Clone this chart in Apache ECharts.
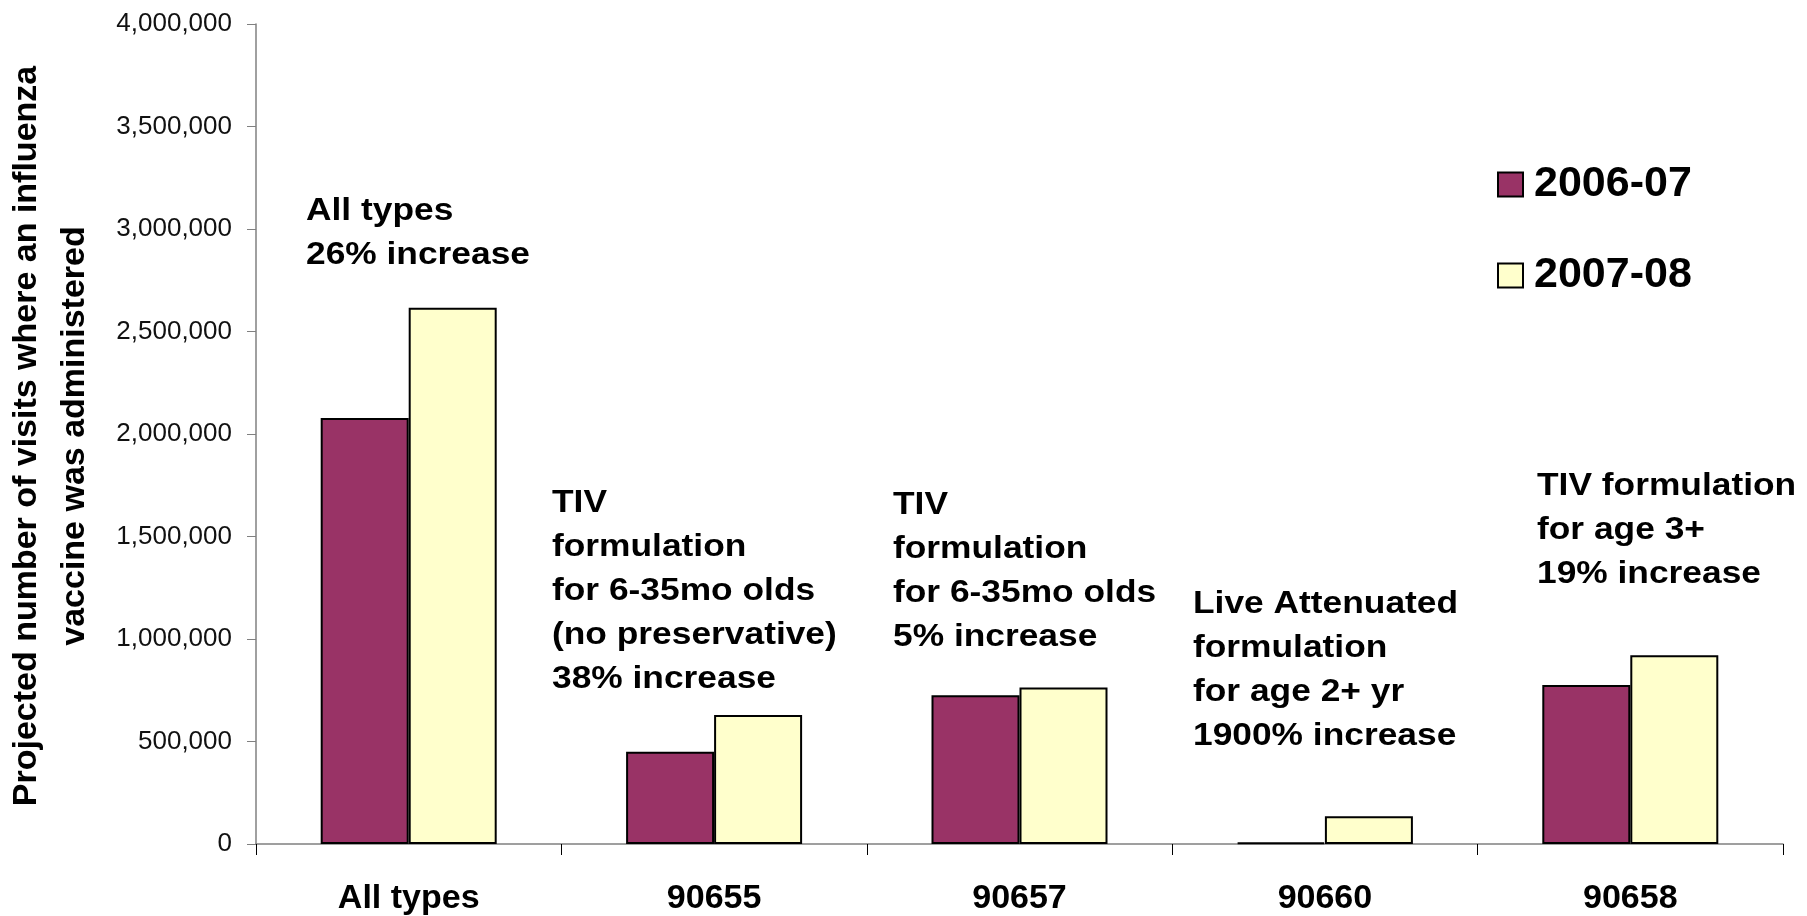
<!DOCTYPE html>
<html>
<head>
<meta charset="utf-8">
<script src="https://cdn.jsdelivr.net/npm/echarts@6/dist/echarts.min.js"></script>
<style>
html,body{margin:0;padding:0;background:#fff;}
#chart{width:1807px;height:916px;}
</style>
</head>
<body>
<div id="chart"></div>
<script>
// ---- data ----
const categories = ['All types', '90655', '90657', '90660', '90658'];
const seriesNames = ['2006-07', '2007-08'];
const values2006 = [2078000, 450000, 726000, 6800, 776000];
const values2007 = [2616000, 629000, 764000, 135500, 921000];
const yTicks = { min: 0, max: 4000000, interval: 500000 };
const yAxisTitle = ['Projected number of visits where an influenza', 'vaccine was administered'];
const annotations = [
  ['All types', '26% increase'],
  ['TIV', 'formulation', 'for 6-35mo olds', '(no preservative)', '38% increase'],
  ['TIV', 'formulation', 'for 6-35mo olds', '5% increase'],
  ['Live Attenuated', 'formulation', 'for age 2+ yr', '1900% increase'],
  ['TIV formulation', 'for age 3+', '19% increase']
];

// ---- layout / style ----
const FONT = '"Liberation Sans", Arial, sans-serif';
const annPos = [[306, 189], [552, 481], [893, 483], [1193, 582], [1537, 464]];

const chart = echarts.init(document.getElementById('chart'));

const graphics = annotations.map((lines, i) => ({
  type: 'text',
  x: annPos[i][0],
  y: annPos[i][1],
  scaleX: 1.14,
  style: {
    text: lines.join('\n'),
    x: 0, y: 0,
    fontFamily: FONT,
    fontSize: 31,
    fontWeight: 'bold',
    lineHeight: 44,
    fill: '#000',
    align: 'left',
    verticalAlign: 'top'
  }
}));
graphics.push({
  type: 'text',
  x: 51,
  y: 436,
  rotation: Math.PI / 2,
  scaleX: 1.03,
  style: {
    text: yAxisTitle.join('\n'),
    x: 0, y: 0,
    fontFamily: FONT,
    fontSize: 33,
    fontWeight: 'bold',
    lineHeight: 48,
    fill: '#000',
    align: 'center',
    verticalAlign: 'middle'
  }
});

const axisColor = '#808080';

chart.setOption({
  animation: false,
  backgroundColor: '#fff',
  textStyle: { fontFamily: FONT },
  grid: { left: 256, right: 24, top: 24, bottom: 72, containLabel: false },
  legend: {
    orient: 'vertical',
    left: 1492,
    top: 158,
    itemWidth: 25,
    itemHeight: 24,
    itemGap: 48,
    icon: 'rect',
    textStyle: { fontFamily: FONT, fontSize: 43, fontWeight: 'bold', color: '#000', lineHeight: 25, padding: [0, 0, 0, 6] },
    data: seriesNames
  },
  xAxis: {
    type: 'category',
    data: categories,
    axisLine: { show: true, lineStyle: { color: axisColor, width: 1.5 } },
    axisTick: { show: true, length: 11, lineStyle: { color: '#000', width: 1 } },
    axisLabel: { fontFamily: FONT, fontSize: 34, fontWeight: 'bold', color: '#000', margin: 38 },
    splitLine: { show: false }
  },
  yAxis: {
    type: 'value',
    min: yTicks.min,
    max: yTicks.max,
    interval: yTicks.interval,
    axisLine: { show: true, lineStyle: { color: axisColor, width: 1.5 } },
    axisTick: { show: true, length: 9, lineStyle: { color: axisColor, width: 1 } },
    axisLabel: {
      fontFamily: FONT, fontSize: 26, color: '#111', margin: 24,
      formatter: v => v.toLocaleString('en-US')
    },
    splitLine: { show: false }
  },
  series: [
    {
      name: seriesNames[0],
      type: 'bar',
      data: values2006,
      barWidth: 88,
      barGap: '0%',
      itemStyle: { color: '#993366', borderColor: '#000', borderWidth: 2 }
    },
    {
      name: seriesNames[1],
      type: 'bar',
      data: values2007,
      barWidth: 88,
      barGap: '0%',
      itemStyle: { color: '#FFFFCC', borderColor: '#000', borderWidth: 2 }
    }
  ],
  graphic: graphics
});
</script>
</body>
</html>
